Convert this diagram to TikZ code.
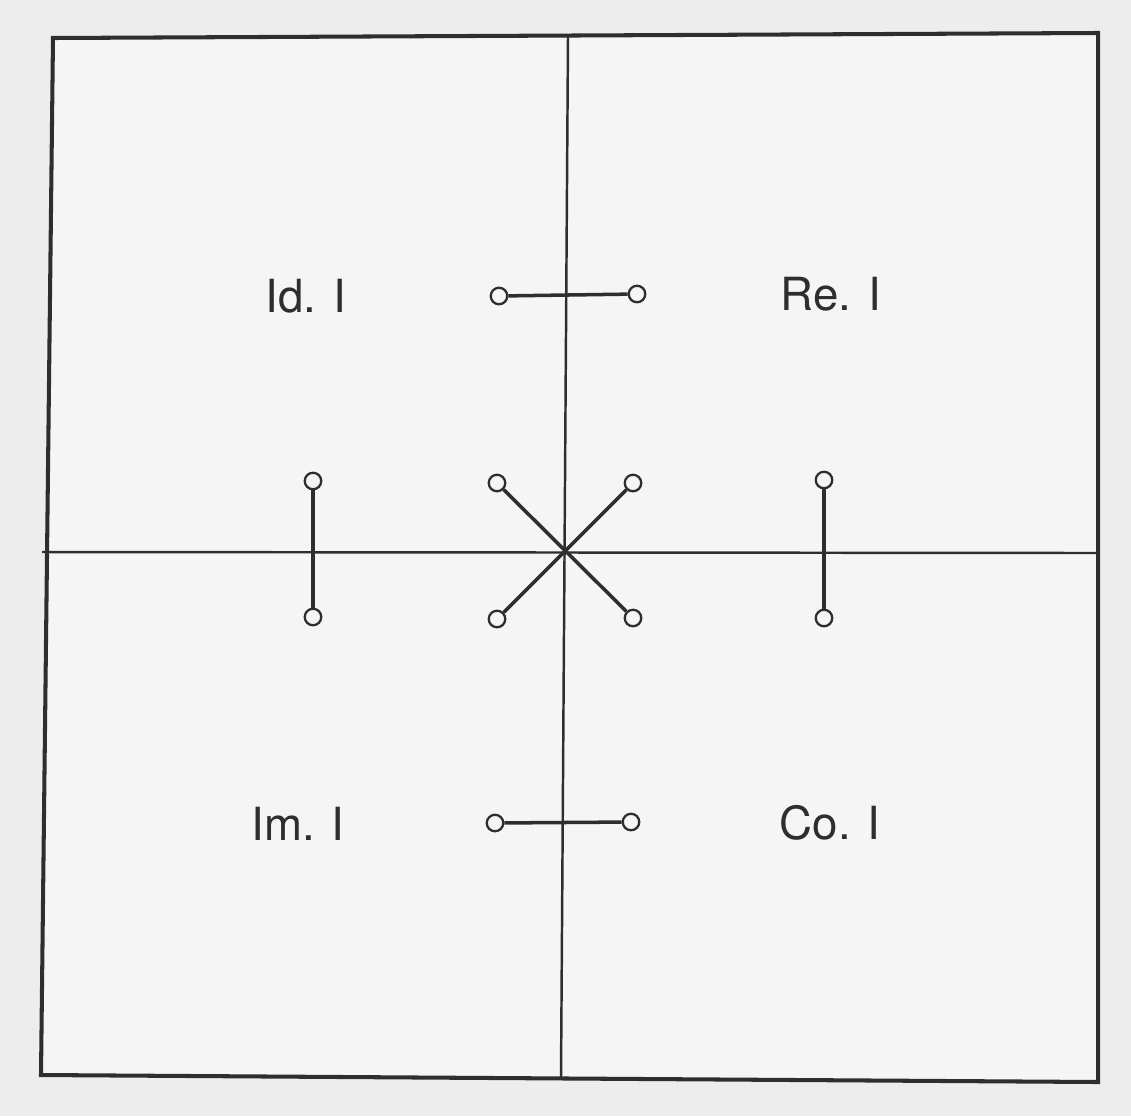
\documentclass[tikz,border=0pt]{standalone}
\usepackage{fontspec}
\setmainfont{TeX Gyre Heros}
\begin{document}
\begin{tikzpicture}[x=0.02cm,y=-0.02cm,
  ink/.style={black!82},
  frame/.style={ink,line width=2.3pt,line join=miter},
  axis/.style={ink,line width=1.4pt},
  pin/.style={circle,draw,ink,line width=1.3pt,inner sep=0pt,minimum size=0.33cm,fill=black!4},
  link/.style={ink,line width=2pt},
  tag/.style={ink,font=\fontsize{26}{30}\selectfont}]
  \useasboundingbox (0,0) rectangle (1131,1116);
  \fill[black!7] (0,0) rectangle (1131,1116);
  \fill[black!4] (53,38) -- (1098,33) -- (1098,1082) -- (41,1075) -- cycle;
  % frame and quadrants
  \draw[frame] (53,38) -- (1098,33) -- (1098,1082) -- (41,1075) -- cycle;
  \draw[axis] (568,36) -- (561,1077);
  \draw[axis] (42,552) -- (1098,553);
  % quadrant names
  \node[tag] (idname) at (306,296) {Id. I};
  \node[tag] (rename) at (831,294) {Re. I};
  \node[tag] (imname) at (298,824) {Im. I};
  \node[tag] (coname) at (830,823) {Co. I};
  % pins
  \node[pin] (id1) at (499,296) {};
  \node[pin] (id2) at (637,294) {};
  \node[pin] (im1) at (495,823) {};
  \node[pin] (im2) at (631,822) {};
  \node[pin] (lt) at (313,481) {};
  \node[pin] (lb) at (313,617) {};
  \node[pin] (rt) at (824,480) {};
  \node[pin] (rb) at (824,618) {};
  \node[pin] (xa) at (497,483) {};
  \node[pin] (xb) at (633,483) {};
  \node[pin] (xc) at (497,619) {};
  \node[pin] (xd) at (633,618) {};
  % links
  \draw[link] (id1) -- (id2);
  \draw[link] (im1) -- (im2);
  \draw[link] (lt) -- (lb);
  \draw[link] (rt) -- (rb);
  \draw[link] (xa) -- (xd);
  \draw[link] (xb) -- (xc);
\end{tikzpicture}
\end{document}
